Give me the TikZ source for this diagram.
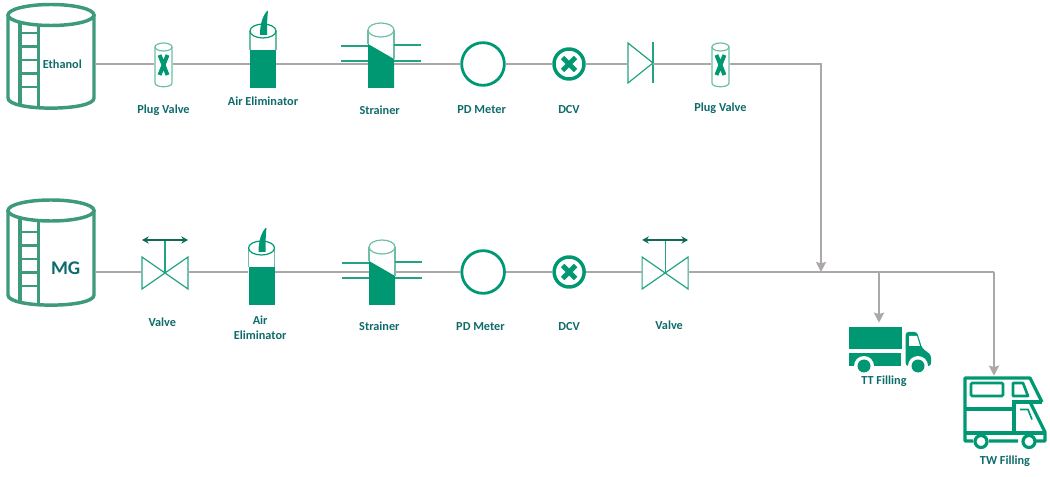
\documentclass[tikz,border=0pt]{standalone}
\usepackage{fontspec}
\setmainfont{Carlito}
\usetikzlibrary{arrows.meta, positioning}

\definecolor{plantgreen}{HTML}{009873}
\definecolor{tankgreen}{HTML}{3E9A7C}
\definecolor{palegreen}{HTML}{6CBFA4}
\definecolor{valvegreen}{HTML}{23A384}
\definecolor{stemgreen}{HTML}{0E6B58}
\definecolor{tagteal}{HTML}{0F6B6B}
\definecolor{pipegray}{HTML}{ACA8A8}

\tikzset{
    symbol/.style={inner sep=0pt, minimum height=2pt},
    tag/.style={inner sep=0pt, align=center, text=tagteal, font=\fontsize{9.2}{11.2}\selectfont\bfseries},
    meter/.style={circle, draw=plantgreen, line width=2.1pt, minimum size=32pt, inner sep=0pt},
    dcv/.style={circle, draw=plantgreen, line width=2.6pt, minimum size=22.5pt, inner sep=0pt},
    pipe/.style={draw=pipegray, line width=2.2pt},
    feed/.style={pipe, -{Stealth[length=7.5pt,width=7.5pt,inset=1pt]}},
    % tank: top of shell, shell bottom, first rung
    pics/tankpic/.style n args={3}{code={
        \draw [tankgreen, line width=2.6pt] (0,#1) ellipse [x radius=43, y radius=10.5];
        \draw [tankgreen, line width=2.6pt] (-43,#1) -- (-43,#2) .. controls (-43,#2+13.5) and (43,#2+13.5) .. (43,#2) -- (43,#1);
        \draw [tankgreen, line width=2.3pt] (-31,#1+8) -- (-31,#2+8);
        \draw [tankgreen, line width=2.3pt] (-12.5,#1+10) -- (-12.5,#2+10);
        \foreach \rung in {0,...,4}
            \draw [tankgreen, line width=2pt] (-31,#3+13.5*\rung) -- (-12.5,#3+13.5*\rung);
    }},
    pics/plugpic/.style={code={
        \draw [palegreen, line width=.9pt] (0,-17) ellipse [x radius=8.5, y radius=4];
        \draw [palegreen, line width=.9pt] (-8.5,-17) -- (-8.5,19) .. controls (-8.5,24) and (8.5,24) .. (8.5,19) -- (8.5,-17);
        \draw [plantgreen, line width=3pt] (-4,-9) -- (4,11) (4,-9) -- (-4,11);
    }},
    pics/airpic/.style={code={
        \fill [plantgreen] (-13,-14) rectangle (13,24);
        \draw [palegreen, line width=.9pt] (-13,-33) -- (-13,-14) (13,-33) -- (13,-14);
        \draw [plantgreen, line width=.9pt] (0,-33) ellipse [x radius=13, y radius=7];
        \fill [plantgreen] (-3,-29) .. controls (-3,-36) and (-2,-46) .. (4,-53) -- (5,-53) .. controls (4,-45) and (4,-36) .. (4,-29) -- cycle;
    }},
    pics/strainerpic/.style={code={
        \fill [plantgreen] (-13,-20) -- (13,-5) -- (13,24) -- (-13,24) -- cycle;
        \draw [palegreen, line width=.9pt] (-13,-34) -- (-13,-20) (13,-34) -- (13,-5);
        \draw [palegreen, line width=.9pt] (0,-34) ellipse [x radius=13, y radius=7];
        \draw [valvegreen, line width=.8pt] (-40,-18) -- (-13,-18) (-40,-3) -- (-13,-3);
        \draw [valvegreen, line width=.8pt] (13,-19) -- (40,-19) (13,-3) -- (40,-3);
    }},
    pics/crosspic/.style={code={
        \draw [plantgreen, line width=3.6pt] (-6.5,-6.5) -- (6.5,6.5) (6.5,-6.5) -- (-6.5,6.5);
    }},
    pics/checkpic/.style={code={
        \draw [valvegreen, line width=.9pt] (-12.5,-21) -- (12.5,-1) -- (-12.5,19) -- cycle;
        \draw [valvegreen, line width=.9pt] (12.5,-22) -- (12.5,19);
    }},
    pics/valvepic/.style={code={
        \draw [valvegreen, line width=.9pt] (-23,-15) -- (23,17) -- (23,-15) -- (-23,17) -- cycle;
        \draw [valvegreen, line width=.9pt] (0,1) -- (0,-31);
        \draw [stemgreen, line width=1pt, {Stealth[length=5pt,width=5.5pt]}-{Stealth[length=5pt,width=5.5pt]}] (-23,-32) -- (23,-32);
    }},
    pics/truckpic/.style={code={
        \fill [plantgreen] (-41,-18) rectangle (11.5,4);
        \fill [plantgreen] (-41,7.7) rectangle (11,21);
        \fill [plantgreen, rounded corners=2pt] (15.7,21) -- (15.7,-13) -- (27,-13) -- (32,3) -- (41,10) -- (41,21) -- cycle;
        \fill [white] (19,-9) -- (27,-9) -- (30,1) -- (19,1) -- cycle;
        \foreach \wheel in {-26,28} {
            \fill [white] (\wheel,21) circle [radius=10];
            \fill [plantgreen] (\wheel,21) circle [radius=6.5];
        }
    }},
    pics/rvpic/.style={code={
        \draw [plantgreen, line width=2.4pt, line join=round] (-16,31.5) -- (13,31.5) (31,31.5) -- (40,31.5) -- (40,22.5) -- (25,-7.5) (37,-7.5) -- (25,-31.5) -- (-40,-31.5) -- (-40,31.5) -- (-32,31.5);
        \draw [plantgreen, line width=2.4pt] (37,-7.5) -- (9,-7.5) -- (9,23.5) (-40,-0.5) -- (9,-0.5) (-40,23.5) -- (40,23.5);
        \draw [plantgreen, line width=2pt, rounded corners=1pt] (-34,-26.5) rectangle (-2,-13.5);
        \draw [plantgreen, line width=2pt, line join=round] (8,-26.5) -- (18,-26.5) -- (23,-13.5) -- (8,-13.5) -- cycle;
        \draw [plantgreen, line width=1.2pt] (15,0) -- (23,0) -- (27,10);
        \foreach \wheel in {-24,24}
            \draw [plantgreen, line width=2.4pt, fill=white] (\wheel,32) circle [radius=6];
    }}
}

\begin{document}
\begin{tikzpicture}[x=.75pt, y=-.75pt, on grid]
    \useasboundingbox (0,0) rectangle (1050,477);

    % ethanol line
    \node (tank1) [symbol, minimum width=66pt] at (51,64) {};
    \node (plug1) [symbol, minimum width=13.5pt, right=84.4pt of tank1] {};
    \node (air1) [symbol, minimum width=19.5pt, right=74.6pt of plug1] {};
    \node (strain1) [symbol, minimum width=19.5pt, right=88.5pt of air1] {};
    \node (meter1) [meter, right=76.5pt of strain1] {};
    \node (dcv1) [dcv, right=64.5pt of meter1] {};
    \node (check1) [symbol, minimum width=18.75pt, right=53.6pt of dcv1] {};
    \node (plug2) [symbol, minimum width=13.5pt, right=60pt of check1] {};

    % MG line
    \node (tank2) [symbol, minimum width=66pt, below=156pt of tank1] {};
    \node (valve1) [symbol, minimum width=34.5pt, right=85.5pt of tank2] {};
    \node (air2) [symbol, minimum width=19.5pt, right=72.4pt of valve1] {};
    \node (strain2) [symbol, minimum width=19.5pt, right=90.4pt of air2] {};
    \node (meter2) [meter, right=75.8pt of strain2] {};
    \node (dcv2) [dcv, right=64.5pt of meter2] {};
    \node (valve2) [symbol, minimum width=34.5pt, right=72pt of dcv2] {};

    % filling points
    \coordinate (join1) at (821,272);
    \coordinate (join2) at (879,272);
    \coordinate (join3) at (994,272);
    \node (truck) [symbol, minimum width=61.5pt, minimum height=33pt] at (890,345) {};
    \node (camper) [symbol, minimum width=62.25pt, minimum height=50.25pt] at (1005,409.5) {};

    \pic at (tank1) {tankpic={-49}{34}{-31}};
    \pic at (plug1) {plugpic};
    \pic at (air1) {airpic};
    \pic at (strain1) {strainerpic};
    \pic at (dcv1) {crosspic};
    \pic at (check1) {checkpic};
    \pic at (plug2) {plugpic};

    \pic at (tank2) {tankpic={-61.5}{23}{-40}};
    \pic at (valve1) {valvepic};
    \pic at ([yshift=-6.75pt]air2) {airpic};
    \pic at ([yshift=-6.75pt]strain2) {strainerpic};
    \pic at (dcv2) {crosspic};
    \pic at (valve2) {valvepic};

    \pic at (truck) {truckpic};
    \pic at (camper) {rvpic};

    \path [pipe]
        (tank1) edge (plug1)
        (plug1) edge (air1)
        (air1) edge (strain1)
        (strain1) edge (meter1)
        (meter1) edge (dcv1)
        (dcv1) edge (check1)
        (check1) edge (plug2)

        (tank2) edge (valve1)
        (valve1) edge (air2)
        (air2) edge (strain2)
        (strain2) edge (meter2)
        (meter2) edge (dcv2)
        (dcv2) edge (valve2);

    \draw [pipe] (valve2) -- (join3);
    \draw [feed] (plug2) -| (join1);
    \draw [feed] (join2) -- (join2 |- truck.north);
    \draw [feed] (join3) -- (join3 |- camper.north);

    % texts
    \node (ethanol) [tag, right=8.5pt of tank1] {Ethanol};
    \node (mg) [tag, font=\fontsize{14.5}{16}\selectfont\bfseries, right=11pt of tank2, yshift=3pt] {MG};

    \node (plug1tag) [tag, below=34.5pt of plug1] {Plug Valve};
    \node (air1tag) [tag, below=28pt of air1] {Air Eliminator};
    \node (strain1tag) [tag, below=34.5pt of strain1, xshift=-1pt] {Strainer};
    \node (meter1tag) [tag, below=34.5pt of meter1, xshift=-1pt] {PD Meter};
    \node (dcv1tag) [tag, below=34.5pt of dcv1] {DCV};
    \node (plug2tag) [tag, below=33pt of plug2] {Plug Valve};

    \node (valve1tag) [tag, below=38pt of valve1, xshift=-2pt] {Valve};
    \node (air2tag) [tag, below=42pt of air2, xshift=-1pt] {Air\\Eliminator};
    \node (strain2tag) [tag, below=41pt of strain2, xshift=-2pt] {Strainer};
    \node (meter2tag) [tag, below=41pt of meter2, xshift=-2pt] {PD Meter};
    \node (dcv2tag) [tag, below=41pt of dcv2] {DCV};
    \node (valve2tag) [tag, below=40pt of valve2, xshift=3pt] {Valve};

    \node (trucktag) [tag, below=27.5pt of truck, xshift=-4.5pt] {TT Filling};
    \node (campertag) [tag, below=39pt of camper] {TW Filling};
\end{tikzpicture}
\end{document}
